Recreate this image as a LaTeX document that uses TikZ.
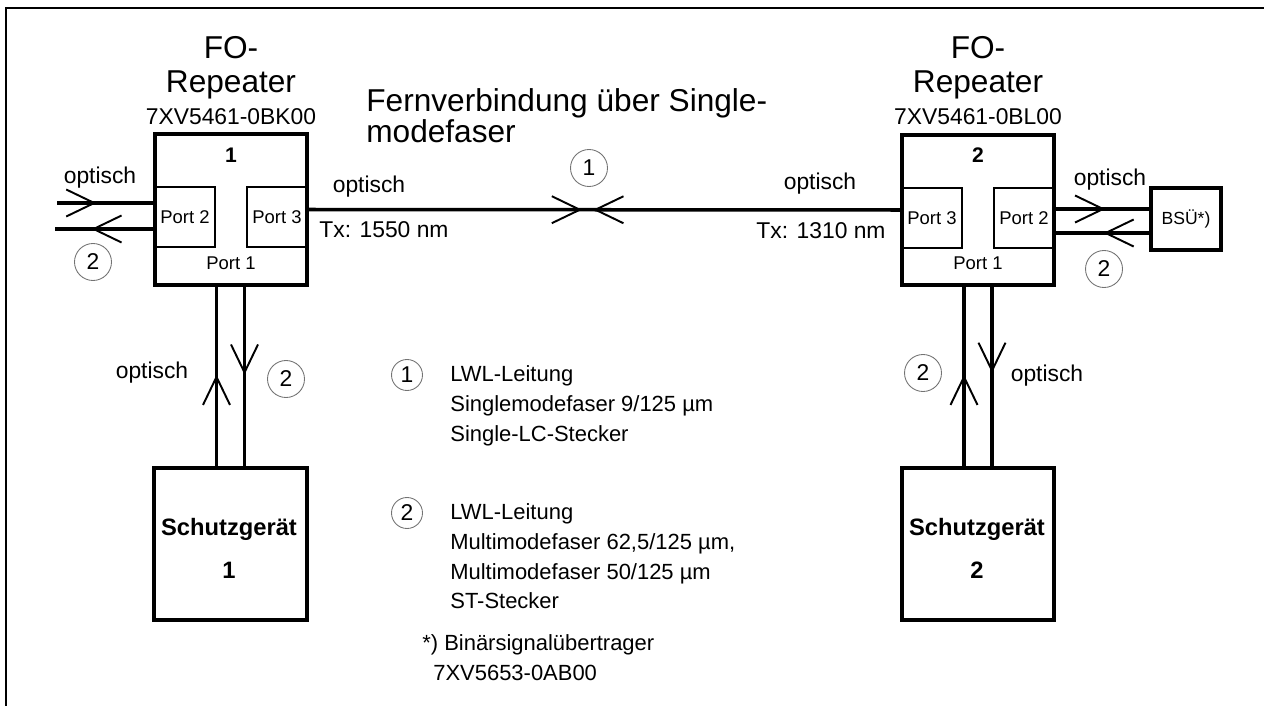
\documentclass[tikz,border=0pt]{standalone}
\usepackage{fontspec}
\setmainfont{Liberation Sans}
\usetikzlibrary{arrows.meta,positioning,calc,decorations.markings}
\tikzset{
  dev/.style={draw, line width=2pt, inner sep=0pt, align=center},
  devtxt/.style={inner sep=0pt, font=\bfseries\fontsize{13.5}{16}\selectfont},
  port/.style={draw, line width=1.1pt, minimum width=1.2cm, minimum height=1.2cm, inner sep=0pt, font=\fontsize{10.5}{12}\selectfont},
  portlbl/.style={inner sep=0pt, font=\fontsize{10.5}{12}\selectfont},
  devnr/.style={inner sep=0pt, font=\bfseries\fontsize{12}{14}\selectfont},
  fibre/.style={line width=2pt},
  chev/.tip={Straight Barb[length=5.6mm, width=5.4mm, line width=1.1pt]},
  fwd/.style={postaction={decorate, decoration={markings, mark=at position #1 with {\arrow{chev}}}}},
  bwd/.style={postaction={decorate, decoration={markings, mark=at position #1 with {\arrowreversed{chev}}}}},
  num/.style={circle, draw=black!55, line width=0.5pt, minimum size=0.74cm, inner sep=0pt, font=\fontsize{13}{15}\selectfont},
  numsm/.style={num, minimum size=0.62cm},
  lbl/.style={inner sep=0pt, font=\fontsize{13}{15}\selectfont},
  ttl/.style={inner sep=0pt, font=\fontsize{18}{20}\selectfont},
  key/.style={inner sep=0pt, align=left, font=\fontsize{12.5}{17}\selectfont},
}
\begin{document}
\begin{tikzpicture}[x=0.02cm, y=-0.02cm]
  \useasboundingbox (0,0) rectangle (1264,706);
  % frame, open to the right and below
  \draw[line width=1.1pt] (6,706) -- (6,8) -- (1264,8);

  % repeater 1
  \node[dev, minimum width=3.04cm, minimum height=3.02cm] (rep1) at (231,209.5) {};
  \node[port] (r1p2) at (185,217) {Port 2};
  \node[port] (r1p3) at (277,217) {Port 3};
  \node[portlbl] (r1p1) at (231,263) {Port 1};
  \node[devnr] (r1nr) at (231,155) {1};
  \node[ttl, anchor=base] (r1t1) at (231,59) {FO-};
  \node[ttl, anchor=base] (r1t2) at (231,92) {Repeater};
  \node[lbl, anchor=base] (r1t3) at (231,125) {7XV5461-0BK00};

  % repeater 2
  \node[dev, minimum width=3.04cm, minimum height=3.0cm] (rep2) at (978,210) {};
  \node[port] (r2p3) at (932,218) {Port 3};
  \node[port] (r2p2) at (1024,218) {Port 2};
  \node[portlbl] (r2p1) at (978,263) {Port 1};
  \node[devnr] (r2nr) at (978,155) {2};
  \node[ttl, anchor=base] (r2t1) at (978,59) {FO-};
  \node[ttl, anchor=base] (r2t2) at (978,92) {Repeater};
  \node[lbl, anchor=base] (r2t3) at (978,125) {7XV5461-0BL00};

  % protection devices and BSUE
  \node[dev, minimum width=3.06cm, minimum height=3.04cm] (sg1) at (230.5,544) {};
  \node[devtxt, anchor=base] (sg1a) at (229,535) {Schutzgerät};
  \node[devtxt, anchor=base] (sg1b) at (229,578) {1};
  \node[dev, minimum width=3.04cm, minimum height=3.04cm] (sg2) at (978,544) {};
  \node[devtxt, anchor=base] (sg2a) at (977,535) {Schutzgerät};
  \node[devtxt, anchor=base] (sg2b) at (977,578) {2};
  \node[dev, minimum width=1.4cm, minimum height=1.24cm, font=\fontsize{10}{12}\selectfont] (bsu) at (1186,219) {BSÜ*)};

  % long distance link
  \node[ttl, anchor=north west, align=left, font=\fontsize{18}{17.5}\selectfont] (fern) at (366,88) {Fernverbindung über Single-\\modefaser};
  \draw[fibre, fwd=0.462, bwd=0.481] (rep1.east) -- (rep2.west);
  \node[num] (n1) at (589,168) {1};
  \node[lbl, anchor=base] (o2) at (369,192) {optisch};
  \node[lbl, anchor=base] (tx1) at (384,237) {Tx: 1550 nm};
  \node[lbl, anchor=base] (o3) at (820,189) {optisch};
  \node[lbl, anchor=base] (tx2) at (821,238) {Tx: 1310 nm};

  % port 2 of repeater 1
  \coordinate (in1) at (57,203);
  \coordinate (out1) at (55,229);
  \draw[fibre, fwd=0.41] (in1) -- (in1 -| rep1.west);
  \draw[fibre, fwd=0.63] (out1 -| rep1.west) -- (out1);
  \node[lbl, anchor=base] (o1) at (100,183) {optisch};
  \node[num] (n2a) at (93,262) {2};

  % port 2 of repeater 2
  \coordinate (bsuin) at ($(bsu.west)+(0,-10)$);
  \coordinate (bsuout) at ($(bsu.west)+(0,14)$);
  \draw[fibre, fwd=0.53] (bsuin -| rep2.east) -- (bsuin);
  \draw[fibre, fwd=0.49] (bsuout) -- (bsuout -| rep2.east);
  \node[lbl, anchor=base] (o4) at (1110,185) {optisch};
  \node[num] (n2b) at (1104,269) {2};

  % port 1 links
  \coordinate (sg1up) at ($(sg1.north)+(-14,0)$);
  \coordinate (sg1dn) at ($(sg1.north)+(14,0)$);
  \draw[fibre, fwd=0.51] (sg1up) -- (sg1up |- rep1.south);
  \draw[fibre, fwd=0.49] (sg1dn |- rep1.south) -- (sg1dn);
  \node[lbl, anchor=base] (o5) at (152,378) {optisch};
  \node[num] (n2c) at (286,379) {2};
  \coordinate (sg2up) at ($(sg2.north)+(-14,0)$);
  \coordinate (sg2dn) at ($(sg2.north)+(14,0)$);
  \draw[fibre, fwd=0.51] (sg2up) -- (sg2up |- rep2.south);
  \draw[fibre, fwd=0.48] (sg2dn |- rep2.south) -- (sg2dn);
  \node[num] (n2d) at (923,373) {2};
  \node[lbl, anchor=base] (o6) at (1047,381) {optisch};

  % legend
  \node[numsm] (k1) at (407,375) {1};
  \node[key, anchor=north west] (k1t) at (450,365) {LWL-Leitung\\Singlemodefaser 9/125 µm\\Single-LC-Stecker};
  \node[numsm] (k2) at (407,513) {2};
  \node[key, anchor=north west] (k2t) at (450,503) {LWL-Leitung\\Multimodefaser 62,5/125 µm,\\Multimodefaser 50/125 µm\\ST-Stecker};
  \node[key, anchor=north west] (note) at (422,634) {*) Binärsignalübertrager\\\hspace*{0.22cm}7XV5653-0AB00};
\end{tikzpicture}
\end{document}
